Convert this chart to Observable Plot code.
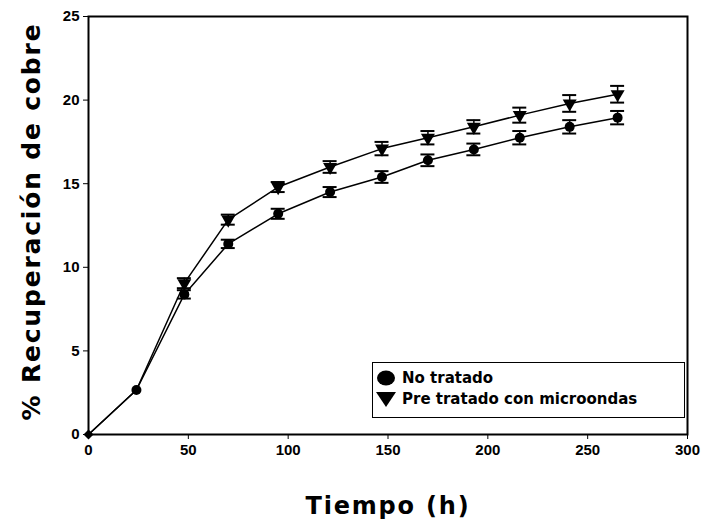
<!DOCTYPE html>
<html>
<head>
<meta charset="utf-8">
<script src="https://cdn.jsdelivr.net/npm/d3@7"></script>
<script src="https://cdn.jsdelivr.net/npm/@observablehq/plot@0.6"></script>
<style>
  html, body { margin: 0; padding: 0; background: #fff; }
  #wrap { position: relative; width: 707px; height: 523px; }
  #wrap g[aria-label$="tick label"] { font-size: 15px; font-weight: bold; font-family: "Liberation Sans", Arial, sans-serif; }
  #wrap .xtitle text, #wrap .ytitle text { letter-spacing: 1.8px; }
  #legend { position: absolute; left: 372px; top: 362px; width: 313px; height: 56px;
    border: 1.5px solid #000; background: #fff; box-sizing: border-box;
    font-family: "DejaVu Sans", sans-serif; font-weight: bold; font-size: 15px; color: #000; }
  .item { position: absolute; left: 2px; display: flex; align-items: center; gap: 5px; }
  .item svg { display: block; }
</style>
</head>
<body>
<div id="wrap"></div>
<script>
const time = [0, 24, 48, 70, 95, 121, 147, 170, 193, 216, 241, 265];
const noTratado = [0, 2.66, 8.38, 11.4, 13.2, 14.5, 15.4, 16.4, 17.05, 17.75, 18.4, 18.95];
const noTratadoErr = [0, 0.1, 0.25, 0.25, 0.3, 0.3, 0.35, 0.35, 0.35, 0.4, 0.4, 0.4];
const preTratado = [0, 2.66, 9.05, 12.85, 14.8, 16.0, 17.1, 17.75, 18.4, 19.1, 19.8, 20.35];
const preTratadoErr = [0, 0.1, 0.3, 0.3, 0.3, 0.35, 0.4, 0.4, 0.4, 0.45, 0.5, 0.5];
const seriesNames = ["No tratado", "Pre tratado con microondas"];
const xTicks = [0, 50, 100, 150, 200, 250, 300];
const yTicks = [0, 5, 10, 15, 20, 25];

const data = [];
time.forEach((t, i) => {
  data.push({s: seriesNames[0], x: t, y: noTratado[i], e: noTratadoErr[i]});
  data.push({s: seriesNames[1], x: t, y: preTratado[i], e: preTratadoErr[i], same: preTratado[i] === noTratado[i]});
});
const withErr = data.filter(d => d.e > 0.15);
const capHalf = 3.5;

const chart = Plot.plot({
  width: 707, height: 523,
  marginLeft: 88, marginRight: 20, marginTop: 16, marginBottom: 89,
  style: {fontFamily: "Liberation Sans, Arial, sans-serif", color: "#000", background: "#fff"},
  x: {domain: [0, 300]},
  y: {domain: [0, 25]},
  marks: [
    Plot.axisX({ticks: xTicks, label: null, tickSize: 5, tickPadding: 5}),
    Plot.axisY({ticks: yTicks, label: null, tickSize: 5, tickPadding: 4}),
    Plot.frame({stroke: "#000", strokeWidth: 2}),
    Plot.line(data, {x: "x", y: "y", z: "s", stroke: "#000", strokeWidth: 1.5}),
    Plot.ruleX(withErr, {x: "x", y1: d => d.y - d.e, y2: d => d.y + d.e, stroke: "#000", strokeWidth: 1.5}),
    Plot.ruleY(withErr, {y: d => d.y + d.e, x1: d => d.x - capHalf, x2: d => d.x + capHalf, stroke: "#000", strokeWidth: 2}),
    Plot.ruleY(withErr, {y: d => d.y - d.e, x1: d => d.x - capHalf, x2: d => d.x + capHalf, stroke: "#000", strokeWidth: 2}),
    Plot.dot(data.filter(d => d.s === seriesNames[1] && !d.same), {x: "x", y: "y", r: 5.2, fill: "#000", symbol: "triangle", rotate: 180}),
    Plot.dot(data.filter(d => d.s === seriesNames[0] && d.x > 0), {x: "x", y: "y", r: 5, fill: "#000", symbol: "circle"}),
    Plot.dot(data.filter(d => d.s === seriesNames[0] && d.x === 0), {x: "x", y: "y", r: 4.5, fill: "#000", symbol: "diamond2"}),
    Plot.text(["% Recuperación de cobre"], {className: "ytitle", frameAnchor: "left", dx: -57, dy: -4, rotate: -90, textAnchor: "middle",
      fontSize: 25, fontWeight: "bold", fontFamily: "DejaVu Sans", fill: "#000"}),
    Plot.text(["Tiempo (h)"], {className: "xtitle", frameAnchor: "bottom", dy: 79, fontSize: 24, fontWeight: "bold",
      fontFamily: "DejaVu Sans", fill: "#000"})
  ]
});
const wrap = document.getElementById("wrap");
wrap.appendChild(chart);

const legend = document.createElement("div");
legend.id = "legend";
legend.innerHTML = `
  <div class="item" style="top:6px"><svg width="22" height="18"><ellipse cx="11" cy="9" rx="9" ry="7.5" fill="#000"/></svg><span>${seriesNames[0]}</span></div>
  <div class="item" style="top:27px"><svg width="22" height="18"><path d="M1,2 L21,2 L11,17 Z" fill="#000"/></svg><span>${seriesNames[1]}</span></div>`;
wrap.appendChild(legend);
</script>
</body>
</html>
